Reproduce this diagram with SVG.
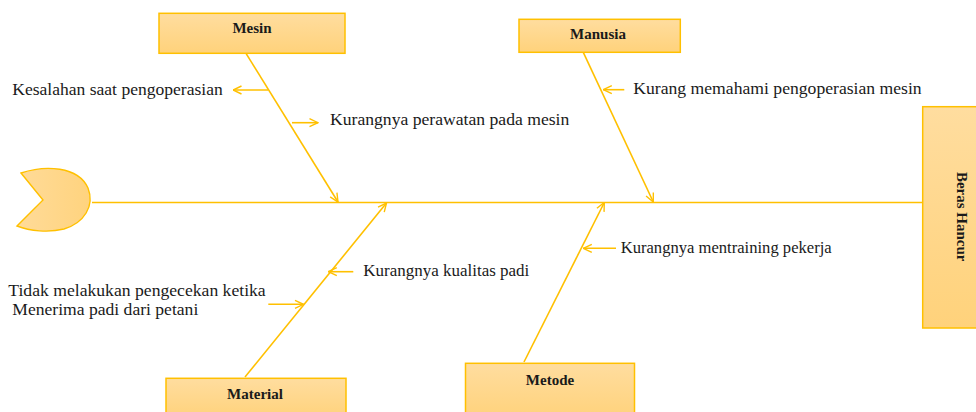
<svg xmlns="http://www.w3.org/2000/svg" width="976" height="412" viewBox="0 0 976 412">
<defs>
<linearGradient id="g" x1="0" y1="0" x2="0" y2="1">
<stop offset="0" stop-color="#FFDD9F"/>
<stop offset="1" stop-color="#FFD27B"/>
</linearGradient>
<linearGradient id="gh" x1="0" y1="0" x2="1" y2="0">
<stop offset="0" stop-color="#FFDB99"/>
<stop offset="1" stop-color="#FFD37E"/>
</linearGradient>
<marker id="a" viewBox="0 0 10 10" refX="9.5" refY="5" markerWidth="10" markerHeight="10" markerUnits="userSpaceOnUse" orient="auto">
<path d="M1,1 L9.5,5 L1,9" fill="none" stroke="#FFC000" stroke-width="1.4"/>
</marker>
</defs>
<style>
.box{fill:url(#g);stroke:#FFC000;stroke-width:1.5}
.ln{fill:none;stroke:#FFC000;stroke-width:1.6}
.t{font-family:"Liberation Serif","Times New Roman",serif;font-size:17px;fill:#1a1a1a}
.b{font-family:"Liberation Serif","Times New Roman",serif;font-size:15px;font-weight:bold;fill:#1a1a1a;text-anchor:middle}
</style>
<rect width="976" height="412" fill="#ffffff"/>

<g id="tail">
<path d="M21,173 C45,165 78,166 88,188 C95,206 84,223 64,229 C48,233 30,231 17,226 L43,200 Z" fill="url(#gh)" stroke="#FFC000" stroke-width="1.4"/>
</g>

<g id="connectors">
<line class="ln" x1="92" y1="202.5" x2="923" y2="202.5"/>
<line class="ln" x1="246" y1="53.3" x2="338" y2="202" marker-end="url(#a)"/>
<line class="ln" x1="583.3" y1="52.3" x2="653.3" y2="202" marker-end="url(#a)"/>
<line class="ln" x1="245" y1="377" x2="386.5" y2="203" marker-end="url(#a)"/>
<line class="ln" x1="524" y1="362" x2="604.3" y2="202.5" marker-end="url(#a)"/>
<line class="ln" x1="268" y1="90" x2="233" y2="90" marker-end="url(#a)"/>
<line class="ln" x1="292" y1="122.7" x2="318" y2="122.7" marker-end="url(#a)"/>
<line class="ln" x1="624.3" y1="89.7" x2="603.3" y2="89.7" marker-end="url(#a)"/>
<line class="ln" x1="353.3" y1="271.7" x2="328.3" y2="271.7" marker-end="url(#a)"/>
<line class="ln" x1="268.3" y1="304.3" x2="303.5" y2="304.3" marker-end="url(#a)"/>
<line class="ln" x1="616" y1="248.3" x2="583.3" y2="248.3" marker-end="url(#a)"/>
</g>

<g id="mesin">
<rect class="box" x="159" y="13.3" width="186" height="40"/>
<text class="b" x="252" y="33">Mesin</text>
</g>
<g id="manusia">
<rect class="box" x="519" y="19.3" width="161.3" height="33"/>
<text class="b" x="598" y="38.5">Manusia</text>
</g>
<g id="material">
<rect class="box" x="166" y="378.3" width="180" height="40"/>
<text class="b" x="255" y="398.5">Material</text>
</g>
<g id="metode">
<rect class="box" x="465.5" y="363.3" width="169" height="55"/>
<text class="b" x="550" y="385">Metode</text>
</g>
<g id="beras-hancur">
<rect class="box" x="922.7" y="106.7" width="60" height="221.3"/>
<text class="b" transform="translate(957,216.7) rotate(90)" x="0" y="0">Beras Hancur</text>
</g>

<g id="causes">
<text class="t" x="12.3" y="95" textLength="210.4" lengthAdjust="spacingAndGlyphs">Kesalahan saat pengoperasian</text>
<text class="t" x="330" y="125" textLength="239.3" lengthAdjust="spacingAndGlyphs">Kurangnya perawatan pada mesin</text>
<text class="t" x="633.3" y="94" textLength="288.4" lengthAdjust="spacingAndGlyphs">Kurang memahami pengoperasian mesin</text>
<text class="t" x="363.3" y="276" textLength="166" lengthAdjust="spacingAndGlyphs">Kurangnya kualitas padi</text>
<text class="t" x="8.3" y="296" textLength="257.4" lengthAdjust="spacingAndGlyphs">Tidak melakukan pengecekan ketika</text>
<text class="t" x="12.3" y="315" textLength="186" lengthAdjust="spacingAndGlyphs">Menerima padi dari petani</text>
<text class="t" x="620.7" y="253" textLength="211" lengthAdjust="spacingAndGlyphs">Kurangnya mentraining pekerja</text>
</g>
</svg>
